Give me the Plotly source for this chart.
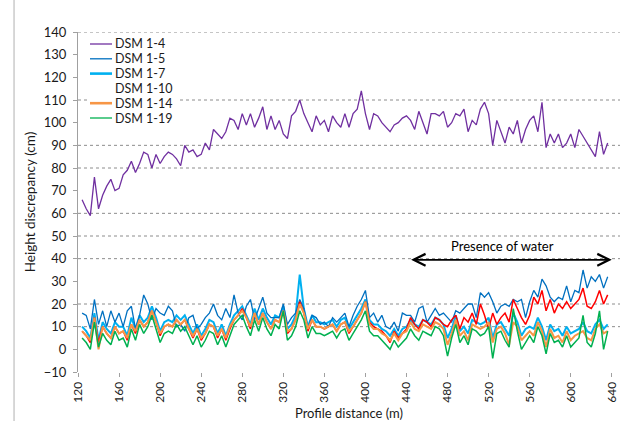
import plotly.graph_objects as go

# Profile positions (m), sampled every 4 m
distance = list(range(124, 637, 4))

# Height discrepancy (cm) per DSM along the profile
dsm_1_4 = [
    66, 62, 59, 76, 62, 68, 72, 75, 70, 71,
    77, 79, 83, 78, 82, 87, 86, 80, 86, 82,
    85, 87, 86, 84, 81, 90, 87, 88, 85, 86,
    91, 88, 97, 95, 93, 96, 102, 101, 97, 104,
    99, 104, 98, 102, 107, 97, 103, 97, 101, 95,
    93, 103, 105, 110, 104, 100, 96, 103, 99, 101,
    96, 103, 100, 98, 104, 98, 104, 106, 114, 104,
    97, 104, 103, 100, 98, 96, 99, 100, 102, 103,
    101, 97, 105, 100, 95, 104, 104, 103, 105, 98,
    100, 104, 103, 106, 96, 101, 99, 106, 109, 104,
    90, 101, 96, 91, 98, 95, 101, 91, 97, 101,
    103, 96, 109, 89, 95, 91, 95, 89, 91, 95,
    89, 97, 94, 91, 88, 85, 96, 86, 91,
]
dsm_1_5 = [
    16, 15, 9, 22, 11, 17, 10, 17, 12, 16,
    10, 17, 19, 9, 15, 24, 20, 13, 18, 16,
    15, 19, 17, 10, 11, 8, 14, 15, 9, 11,
    14, 16, 20, 15, 13, 18, 14, 24, 16, 13,
    19, 22, 13, 18, 23, 16, 14, 14, 14, 20,
    11, 14, 16, 22, 18, 9, 15, 14, 11, 12,
    10, 14, 12, 14, 16, 10, 15, 19, 22, 26,
    14, 16, 12, 15, 10, 9, 12, 8, 16, 15,
    15, 12, 18, 19, 12, 15, 18, 15, 16, 14,
    12, 17, 16, 18, 20, 20, 14, 25, 23, 25,
    21, 16, 19, 20, 19, 22, 21, 22, 14, 21,
    26, 23, 31, 28, 23, 21, 23, 22, 28, 21,
    26, 25, 35, 27, 32, 30, 33, 27, 32,
]
dsm_1_7 = [
    10, 8, 5, 16, 4, 12, 9, 7, 12, 10,
    10, 6, 14, 9, 15, 12, 14, 19, 14, 8,
    12, 13, 12, 15, 13, 15, 11, 7, 11, 6,
    9, 13, 12, 7, 11, 6, 11, 15, 17, 19,
    15, 11, 18, 13, 18, 14, 11, 15, 14, 19,
    9, 11, 15, 33, 18, 10, 15, 12, 12, 11,
    12, 13, 10, 13, 14, 9, 12, 15, 18, 22,
    13, 11, 11, 9, 8, 6, 9, 6, 9, 10,
    13, 11, 10, 13, 12, 11, 14, 13, 11, 5,
    9, 15, 8, 10, 7, 13, 12, 11, 12, 14,
    5, 11, 12, 9, 6, 16, 12, 6, 9, 10,
    9, 14, 10, 4, 11, 8, 9, 6, 10, 7,
    8, 9, 12, 8, 7, 11, 13, 9, 11,
]
dsm_1_10 = [
    8, 6, 3, 14, 3, 10, 7, 5, 10, 7,
    8, 4, 11, 7, 13, 10, 12, 17, 12, 6,
    10, 11, 10, 13, 11, 13, 9, 5, 9, 4,
    7, 11, 10, 5, 9, 4, 9, 13, 15, 18,
    14, 9, 16, 11, 16, 12, 9, 13, 12, 17,
    7, 9, 13, 21, 16, 8, 13, 10, 10, 9,
    10, 11, 8, 11, 12, 7, 10, 13, 16, 21,
    12, 10, 9, 8, 6, 3, 8, 5, 7, 9,
    14, 11, 9, 13, 12, 10, 14, 13, 11, 10,
    13, 15, 9, 14, 12, 16, 11, 20, 15, 9,
    16, 11, 14, 16, 12, 22, 18, 14, 11, 15,
    23, 20, 26, 17, 22, 16, 20, 18, 21, 18,
    20, 22, 27, 19, 18, 21, 26, 20, 24,
]
dsm_1_14 = [
    8, 6, 4, 14, 0, 10, 7, 5, 10, 7,
    8, 5, 11, 8, 13, 10, 12, 17, 12, 7,
    10, 11, 10, 13, 11, 13, 9, 6, 9, 5,
    7, 11, 10, 6, 9, 5, 10, 13, 15, 17,
    14, 10, 16, 11, 16, 12, 9, 13, 12, 17,
    8, 9, 13, 20, 16, 9, 13, 10, 10, 9,
    10, 11, 8, 11, 12, 8, 10, 13, 16, 21,
    11, 9, 9, 7, 6, 4, 7, 4, 7, 8,
    12, 9, 8, 11, 10, 9, 12, 11, 9, 2,
    7, 13, 6, 8, 4, 11, 10, 9, 10, 12,
    3, 9, 10, 7, 2, 12, 10, 4, 6, 8,
    6, 12, 8, 1, 9, 5, 6, 3, 8, 4,
    6, 7, 8, 5, 4, 9, 11, 7, 8,
]
dsm_1_19 = [
    5, 3, 0, 12, 1, 7, 4, 2, 8, 4,
    5, 1, 9, 4, 11, 7, 10, 15, 9, 3,
    7, 8, 7, 11, 8, 10, 6, 2, 6, 1,
    4, 8, 7, 2, 6, 1, 6, 11, 13, 15,
    10, 6, 13, 8, 14, 9, 6, 11, 9, 17,
    4, 6, 10, 17, 13, 5, 10, 7, 7, 6,
    7, 8, 5, 8, 9, 4, 7, 10, 13, 17,
    8, 6, 6, 4, 2, 0, 4, 1, 3, 5,
    9, 6, 4, 8, 7, 6, 10, 9, 6, -3,
    5, 11, 3, 6, 2, 9, 8, 6, 7, 10,
    -4, 7, 8, 4, 1, 18, 8, 0, 3, 6,
    3, 10, 6, -2, 7, 3, 4, 1, 6, 1,
    3, 5, 15, 3, 1, 7, 17, 0, 8,
]

series_names = ["DSM 1-4", "DSM 1-5", "DSM 1-7", "DSM 1-10", "DSM 1-14", "DSM 1-19"]
series_colors = ["#7030A0", "#0070C0", "#00B0F0", "#FF0000", "#F79646", "#00B050"]
series_widths = [1.3, 1.3, 2.0, 1.5, 2.0, 1.5]
legend_sample = [True, True, True, False, True, True]   # DSM 1-10 key has no line swatch
series_values = [dsm_1_4, dsm_1_5, dsm_1_7, dsm_1_10, dsm_1_14, dsm_1_19]
draw_order = [0, 2, 1, 3, 4, 5]

x_ticks = list(range(120, 641, 40))
grid_levels = [140, 110, 90, 80, 60, 50, 40, 20, 10]
water_start, water_end = 443, 640

FONT = "Lato, 'Liberation Sans', sans-serif"

fig = go.Figure()
for i in draw_order:
    fig.add_trace(go.Scatter(
        x=distance, y=series_values[i], name=series_names[i], mode="lines",
        line=dict(color=series_colors[i], width=series_widths[i]),
        showlegend=False,
    ))

shapes = [
    dict(type="line", xref="paper", yref="y", x0=0, x1=1, y0=g, y1=g,
         line=dict(color="#8c8c8c", width=1, dash="dot"), layer="below")
    for g in grid_levels
]
# chart frame edge on the left
shapes.append(dict(type="line", xref="paper", yref="paper", x0=-0.118, x1=-0.118,
                   y0=-0.15, y1=1.1, line=dict(color="#b0b0b0", width=1)))

annotations = [
    dict(x=water_end, y=39.5, ax=water_start, ay=39.5, xref="x", yref="y",
         axref="x", ayref="y", text="", showarrow=True, arrowside="end+start",
         arrowhead=5, arrowsize=1.3, arrowwidth=1.8, arrowcolor="#000000"),
    dict(x=534, y=45.5, xref="x", yref="y", text="Presence of water",
         showarrow=False, font=dict(family=FONT, size=13, color="#000000")),
]

# Key box in the upper-left corner of the plot area (paper coordinates)
PW, PH = 542.0, 340.0
def px_x(p):
    return (p - 78) / PW
def px_y(p):
    return (372 - p) / PH

shapes.append(dict(type="rect", xref="paper", yref="paper",
                   x0=px_x(87), x1=px_x(177), y0=px_y(36), y1=px_y(126),
                   fillcolor="white", line=dict(width=0), layer="below"))
for k, name in enumerate(series_names):
    row_y = px_y(44 + 14.8 * k)
    if legend_sample[k]:
        shapes.append(dict(type="line", xref="paper", yref="paper",
                           x0=px_x(90), x1=px_x(112), y0=row_y, y1=row_y,
                           line=dict(color=series_colors[k],
                                     width=2.6 if series_widths[k] >= 2 else 1.3),
                           layer="above"))
    annotations.append(dict(x=px_x(113), y=row_y, xref="paper", yref="paper",
                            text=name, showarrow=False, xanchor="left", yanchor="middle",
                            font=dict(family=FONT, size=12.5, color="#1a1a1a")))

fig.update_layout(
    width=627, height=421,
    margin=dict(l=78, r=7, t=32, b=49),
    paper_bgcolor="white", plot_bgcolor="white",
    font=dict(family=FONT, size=12, color="#1a1a1a"),
    shapes=shapes, annotations=annotations,
    showlegend=False,
)
fig.update_xaxes(
    range=[120, 648], tickvals=x_ticks, tickangle=-90,
    showgrid=False, zeroline=False, showline=False, automargin=False,
    ticks="outside", ticklen=4, tickcolor="#a0a0a0",
    title=dict(text="Profile distance (m)", font=dict(family=FONT, size=13), standoff=8),
    tickfont=dict(family=FONT, size=12),
)
fig.update_yaxes(
    range=[-10, 140], dtick=10, showgrid=False, zeroline=False,
    showline=True, linecolor="#a0a0a0", linewidth=1, automargin=False,
    ticks="outside", ticklen=4, tickcolor="#a0a0a0", ticklabelstandoff=4,
    title=dict(text="Height discrepancy (cm)", font=dict(family=FONT, size=13.5), standoff=5),
    tickfont=dict(family=FONT, size=13),
)

fig.write_html("out.html")
